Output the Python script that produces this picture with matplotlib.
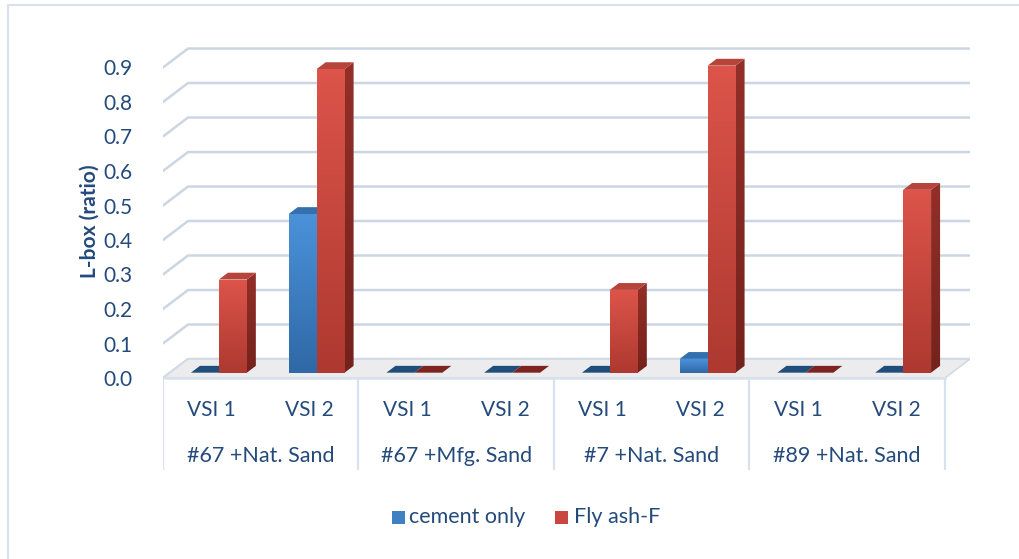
import matplotlib.pyplot as plt
import numpy as np
from matplotlib.colors import LinearSegmentedColormap
from matplotlib.patches import Polygon, Rectangle
from matplotlib.lines import Line2D

plt.rcParams['font.family'] = ['Lato', 'DejaVu Sans']

groups = ['#67 +Nat. Sand', '#67 +Mfg. Sand', '#7 +Nat. Sand', '#89 +Nat. Sand']
subcats = ['VSI 1', 'VSI 2']
series = ['cement only', 'Fly ash-F']
cement_only = [0.0, 0.46, 0.0, 0.0, 0.0, 0.04, 0.0, 0.0]
fly_ash_f = [0.27, 0.88, 0.0, 0.0, 0.24, 0.89, 0.0, 0.53]
yticks = [0.0, 0.1, 0.2, 0.3, 0.4, 0.5, 0.6, 0.7, 0.8, 0.9]

TXT = '#244A7C'
GRID = '#CCD6E2'
FRAME = '#D8E2EE'

# fake 3d: depth offset of the back wall in data units
DX, DY = 0.256, 0.055
F0, F1 = 0.28, 0.64      # bar front / back as fraction of depth
BW = 0.286               # bar width (one subcategory = 1.0)

W, H = 1019, 559
fig = plt.figure(figsize=(W / 100, H / 100), dpi=100)

# axes placed in pixels: x 0..8+DX -> 163..970, y 0 at 378 px, 345 px per unit
px_x0, px_x1 = 163, 970
y0_px, per_unit = 378, 345
ylo, yhi = -0.267, 0.97
ax = fig.add_axes([px_x0 / W, (H - (y0_px - ylo * per_unit)) / H,
                   (px_x1 - px_x0) / W, (yhi - ylo) * per_unit / H])
ax.set_xlim(0, 8 + DX)
ax.set_ylim(ylo, yhi)
for s in ax.spines.values():
    s.set_visible(False)
ax.set_xticks([])
ax.set_yticks(yticks)
ax.set_yticklabels([f'{t:.1f}' for t in yticks], fontsize=15, color=TXT)
ax.tick_params(axis='y', length=0, pad=22)
ax.patch.set_alpha(0)
fig.text(90 / W, (H - 221) / H, 'L-box (ratio)', rotation=90, ha='center',
         va='center', fontsize=15, fontweight='bold', color=TXT)

# gridlines: diagonal on the side wall, horizontal on the back wall
for t in yticks:
    ax.plot([0, DX, 8 + DX], [t, t + DY, t + DY], color=GRID, lw=1.8,
            solid_capstyle='round', zorder=1)

# floor
floor = Polygon([(0, 0), (8, 0), (8 + DX, DY), (DX, DY)], closed=True,
                facecolor='#ECECEE', edgecolor='#D3DAE3', lw=1.2, zorder=2)
ax.add_patch(floor)

# category table below the floor
ax.plot([0, 8], [0, 0], color=FRAME, lw=1.8, zorder=3)
for g in range(len(groups) + 1):
    ax.plot([2 * g, 2 * g], [0, ylo], color=FRAME, lw=1.6, zorder=3)
for i in range(8):
    ax.text(i + 0.5, -0.093, subcats[i % 2], ha='center', va='center',
            fontsize=15, color=TXT)
for g, name in enumerate(groups):
    ax.text(2 * g + 1, -0.226, name, ha='center', va='center',
            fontsize=15.5, color=TXT)

styles = {
    'cement only': dict(front=('#4B92DA', '#2F68A6'), top='#3470AE',
                        side=('#2C5F95', '#234E7C'), flat='#1F4E7B',
                        legend='#3F7FC4'),
    'Fly ash-F': dict(front=('#DC544A', '#AE3930'), top='#B7443B',
                      side=('#922F28', '#74221D'), flat='#7D2420',
                      legend='#C9473E'),
}


def gradient(x0, x1, y0, y1, c_top, c_bot, clip, z):
    cmap = LinearSegmentedColormap.from_list('g', [c_bot, c_top])
    img = np.linspace(0, 1, 64).reshape(-1, 1)
    im = ax.imshow(img, cmap=cmap, origin='lower', aspect='auto',
                   extent=[x0, x1, y0, y1], interpolation='bicubic', zorder=z)
    im.set_clip_path(clip)


def bar3d(xc, v, st, z):
    b = F0 * DY
    x0 = xc + F0 * DX
    d = F1 - F0
    ddx, ddy = d * DX, d * DY
    if v <= 0:
        ax.add_patch(Polygon([(x0, b), (x0 + BW, b), (x0 + BW + ddx, b + ddy),
                              (x0 + ddx, b + ddy)], closed=True,
                             facecolor=st['flat'], edgecolor='none', zorder=z))
        return
    top = b + v
    side = Polygon([(x0 + BW, b), (x0 + BW + ddx, b + ddy),
                    (x0 + BW + ddx, top + ddy), (x0 + BW, top)], closed=True,
                   facecolor='none', edgecolor='none', zorder=z)
    ax.add_patch(side)
    gradient(x0 + BW, x0 + BW + ddx, b, top + ddy, st['side'][0], st['side'][1], side, z)
    ax.add_patch(Polygon([(x0, top), (x0 + BW, top), (x0 + BW + ddx, top + ddy),
                          (x0 + ddx, top + ddy)], closed=True,
                         facecolor=st['top'], edgecolor='none', zorder=z))
    front = Rectangle((x0, b), BW, v, facecolor='none', edgecolor='none', zorder=z)
    ax.add_patch(front)
    gradient(x0, x0 + BW, b, top, st['front'][0], st['front'][1], front, z)


for i in range(8):
    centre = i + 0.5
    bar3d(centre - BW, cement_only[i], styles['cement only'], 4 + i * 0.1)
    bar3d(centre, fly_ash_f[i], styles['Fly ash-F'], 4.05 + i * 0.1)

ax.set_xlim(0, 8 + DX)
ax.set_ylim(ylo, yhi)

# legend
leg_y = (H - 517) / H
fig.add_artist(Rectangle((392 / W, leg_y - 6.5 / H), 13 / W, 13 / H,
                         transform=fig.transFigure,
                         facecolor=styles['cement only']['legend'], edgecolor='none'))
fig.text(409 / W, leg_y, 'cement only', fontsize=15.5, color=TXT, va='center')
fig.add_artist(Rectangle((555 / W, leg_y - 6.5 / H), 13 / W, 13 / H,
                         transform=fig.transFigure,
                         facecolor=styles['Fly ash-F']['legend'], edgecolor='none'))
fig.text(574 / W, leg_y, 'Fly ash-F', fontsize=15.5, color=TXT, va='center')

# chart frame (left and top edges)
fig.add_artist(Line2D([8 / W, 8 / W, 1.0], [0, 1 - 5 / H, 1 - 5 / H],
                      transform=fig.transFigure, color=FRAME, lw=1.5))

fig.savefig('out.png', dpi=100)
